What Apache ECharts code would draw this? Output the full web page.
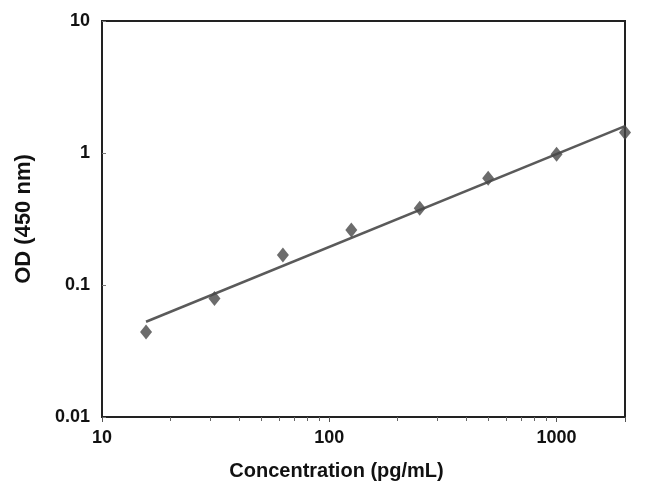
<!DOCTYPE html>
<html>
<head>
<meta charset="utf-8">
<script src="https://cdn.jsdelivr.net/npm/echarts@6/dist/echarts.min.js"></script>
<style>
  html, body { margin: 0; padding: 0; background: #fff; }
  #chart { width: 650px; height: 501px; }
</style>
</head>
<body>
<div id="chart"></div>
<script>
// standard concentrations (pg/mL) and measured OD
var conc = [15.625, 31.25, 62.5, 125, 250, 500, 1000, 2000];
var od = [0.044, 0.079, 0.169, 0.261, 0.381, 0.643, 0.98, 1.43];
// fitted standard curve, end points
var fitX = [15.625, 2000];
var fitY = [0.0527, 1.60];

var chart = echarts.init(document.getElementById('chart'));

var labelFont = { color: '#111', fontFamily: 'Liberation Sans, Arial, sans-serif', fontWeight: 'bold', fontSize: 18 };

var option = {
    animation: false,
    grid: {
        left: 102, right: 25, top: 21, bottom: 84,
        show: true, borderColor: '#222', borderWidth: 2
    },
    xAxis: {
        type: 'log',
        logBase: 10,
        min: 10,
        max: 2000,
        name: 'Concentration (pg/mL)',
        nameLocation: 'middle',
        nameGap: 44,
        nameTextStyle: { color: '#111', fontFamily: 'Liberation Sans, Arial, sans-serif', fontWeight: 'bold', fontSize: 20, padding: [0, 54, 0, 0] },
        axisLine: { lineStyle: { color: '#222', width: 2 } },
        axisTick: { show: true, inside: false, length: 5, lineStyle: { color: '#555' } },
        minorTick: { show: true, splitNumber: 9, length: 4, lineStyle: { color: '#666' } },
        splitLine: { show: false },
        axisLabel: Object.assign({ margin: 12, showMaxLabel: false, formatter: function (v) {
            var l = Math.log10(v);
            return Math.abs(l - Math.round(l)) < 1e-6 ? String(Math.round(v)) : '';
        } }, labelFont)
    },
    yAxis: {
        type: 'log',
        logBase: 10,
        min: 0.01,
        max: 10,
        name: 'OD (450 nm)',
        nameLocation: 'middle',
        nameGap: 67,
        nameTextStyle: { color: '#111', fontFamily: 'Liberation Sans, Arial, sans-serif', fontWeight: 'bold', fontSize: 22 },
        axisLine: { lineStyle: { color: '#222', width: 2 } },
        axisTick: { show: true, inside: true, length: 4, lineStyle: { color: '#777' } },
        splitLine: { show: false },
        axisLabel: Object.assign({ margin: 12, formatter: function (v) {
            return String(+v.toPrecision(3));
        } }, labelFont)
    },
    series: [
        {
            name: 'Fit',
            type: 'line',
            data: fitX.map(function (x, i) { return [x, fitY[i]]; }),
            showSymbol: false,
            symbol: 'none',
            lineStyle: { color: '#5a5a5a', width: 2.5 },
            z: 2
        },
        {
            name: 'Standards',
            type: 'scatter',
            data: conc.map(function (x, i) { return [x, od[i]]; }),
            symbol: 'diamond',
            symbolSize: [12, 15],
            itemStyle: { color: '#474747' },
            z: 3
        }
    ]
};

chart.setOption(option);
</script>
</body>
</html>
